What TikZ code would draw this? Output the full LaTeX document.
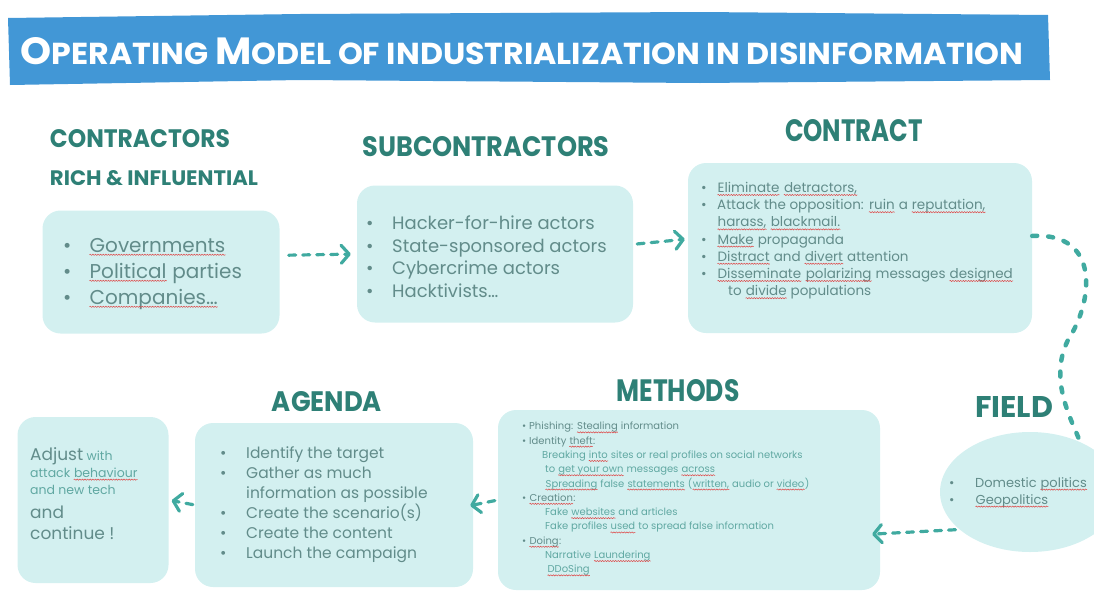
\documentclass[tikz,border=0pt]{standalone}
\usepackage{fontspec}
\setmainfont{Poppins}
\usetikzlibrary{arrows.meta,shapes.geometric,decorations.pathmorphing}

\definecolor{bannerblue}{RGB}{66,151,214}
\definecolor{boxfill}{RGB}{211,240,240}
\definecolor{headteal}{RGB}{46,128,118}
\definecolor{bodytext}{RGB}{98,140,138}
\definecolor{lighttext}{RGB}{96,168,162}
\definecolor{arrowteal}{RGB}{64,170,160}
\definecolor{squig}{RGB}{222,70,70}

% red wavy underline of the spell checker
\newcommand{\sq}[1]{\tikz[baseline=(w.base)]{\node[inner sep=0, anchor=base] (w) {#1};
  \draw[squig, line width=0.5pt, decorate, decoration={snake, amplitude=0.6pt, segment length=2.6pt}]
    ([yshift=-2.5pt]w.base west) -- ([yshift=-2.5pt]w.base east);}}
\newcommand{\hd}[3]{\resizebox{#1pt}{#2pt}{#3}}
\newcommand{\bl}[1]{\makebox[#1pt][l]{\textbullet}}
\newcommand{\sub}[2]{\hspace*{#1pt}{\color{lighttext}#2}}

\tikzset{
  panel/.style={fill=boxfill, rounded corners=18pt, inner sep=0},
  heading/.style={text=headteal, font=\bfseries, inner sep=0},
  list/.style={text=bodytext, align=left, inner sep=0, anchor=north west},
  flow/.style={draw=arrowteal, line width=3.2pt, line cap=round, dash pattern=on 7pt off 7pt,
    -{Straight Barb[length=8pt,width=18pt,round]}},
  dotpath/.style={draw=arrowteal, line width=4.5pt, line cap=round, dash pattern=on 5pt off 11pt},
}

\begin{document}
\begin{tikzpicture}[x=1pt,y=-1pt]
\useasboundingbox (0,0) rectangle (1094,592);

% title banner
\fill[bannerblue] (8,18) -- (300,14) -- (700,12) -- (1048,15) -- (1050,80) -- (700,83) -- (300,80) -- (10,85) -- cycle;
\node[text=white, inner sep=0, font=\bfseries] (title) at (522,51)
  {\hd{1003}{27}{\fontsize{30}{30}\selectfont O\fontsize{24}{24}\selectfont PERATING \fontsize{30}{30}\selectfont M\fontsize{24}{24}\selectfont ODEL OF INDUSTRIALIZATION IN DISINFORMATION}};

% panels
\node[panel, minimum width=237pt, minimum height=123pt] (contractors) at (161,272) {};
\node[panel, minimum width=276pt, minimum height=137pt] (subcontractors) at (495,254) {};
\node[panel, minimum width=344pt, minimum height=170pt] (contract) at (860,248) {};
\node[ellipse, fill=boxfill, minimum width=180pt, minimum height=120pt] (field) at (1030,492) {};
\node[panel, minimum width=382pt, minimum height=180pt] (methods) at (689,500) {};
\node[panel, minimum width=278pt, minimum height=164pt] (agenda) at (334,505) {};
\node[panel, minimum width=151pt, minimum height=166pt] (adjust) at (93,500) {};

% headings
\node[heading] (contractorshead) at (140,139) {\hd{180}{18}{CONTRACTORS}};
\node[heading] (richhead) at (154,178) {\hd{208}{15}{RICH \& INFLUENTIAL}};
\node[heading] (subhead) at (486,147) {\hd{247}{20}{SUBCONTRACTORS}};
\node[heading] (contracthead) at (854,131) {\hd{138}{22}{CONTRACT}};
\node[heading] (fieldhead) at (1014,407) {\hd{78}{21}{FIELD}};
\node[heading] (methodshead) at (678,391) {\hd{123}{22}{METHODS}};
\node[heading] (agendahead) at (327,402) {\hd{110}{20}{AGENDA}};

% texts
\node[list, font=\fontsize{20}{26}\selectfont] (contractorslist) at (63,238)
  {\bl{26}\sq{Governments}\\ \bl{26}\sq{Political} parties\\ \bl{26}\sq{Companies…}};
\node[list, font=\fontsize{18}{22.5}\selectfont] (sublist) at (366,216)
  {\bl{26}Hacker-for-hire actors\\ \bl{26}State-sponsored actors\\ \bl{26}Cybercrime actors\\ \bl{26}Hacktivists…};
\node[list, font=\fontsize{13.5}{17.2}\selectfont] (contractlist) at (701,182)
  {\bl{16}\sq{Eliminate} \sq{detractors,}\\
   \bl{16}Attack the opposition: \sq{ruin} a \sq{reputation,}\\
   \hspace*{16pt}\sq{harass,} \sq{blackmail.}\\
   \bl{16}\sq{Make} propaganda\\
   \bl{16}\sq{Distract} and \sq{divert} attention\\
   \bl{16}\sq{Disseminate} \sq{polarizing} messages \sq{designed}\\
   \hspace*{27pt}to \sq{divide} populations};
\node[list, font=\fontsize{10}{14.3}\selectfont] (methodslist) at (522,422)
  {\bl{7}Phishing: \sq{Stealing} information\\
   \bl{7}Identity \sq{theft}:\\
   \sub{20}{Breaking \sq{into} sites or real profiles on social networks}\\
   \sub{23}{to \sq{get your own} messages \sq{across}}\\
   \sub{23}{\sq{Spreading} false \sq{statements} (\sq{written,} audio or \sq{video})}\\
   \bl{7}\sq{Creation}:\\
   \sub{23}{Fake \sq{websites} and articles}\\
   \sub{23}{Fake profiles \sq{used} to spread false information}\\
   \bl{7}\sq{Doing}:\\
   \sub{23}{Narrative \sq{Laundering}}\\
   \sub{25}{\sq{DDoSing}}};
\node[list, font=\fontsize{15.5}{20}\selectfont] (agendalist) at (220,446)
  {\bl{26}Identify the target\\ \bl{26}Gather as much\\ \hspace*{26pt}information as possible\\
   \bl{26}Create the scenario(s)\\ \bl{26}Create the content\\ \bl{26}Launch the campaign};
\node[list, font=\fontsize{13}{17}\selectfont] (fieldlist) at (949,477)
  {\bl{26}Domestic \sq{politics}\\ \bl{26}\sq{Geopolitics}};
\node[list, font=\fontsize{12.5}{17}\selectfont] (adjustlist) at (30,447)
  {{\fontsize{17}{20}\selectfont Adjust} {\color{lighttext}with}\\
   {\color{lighttext}attack \sq{behaviour}}\\
   {\color{lighttext}and new tech}\\[7pt]
   {\fontsize{17}{20}\selectfont and}\\[4pt]
   {\fontsize{17}{20}\selectfont continue !}};

% connectors
\draw[flow, shorten <=9pt, shorten >=6pt] (contractors.8) -- (subcontractors.west);
\draw[flow, shorten <=4pt, shorten >=3pt] (subcontractors.4) -- (contract.177);
\draw[dotpath] (contract.4) .. controls (1100,232) and (1094,300) .. (1068,340)
  .. controls (1048,380) and (1072,420) .. (field.45);
\draw[flow, shorten <=4pt, shorten >=-8pt] (field.208) -- (methods.-10);
\draw[flow, shorten <=3pt, shorten >=-3pt] (methods.west) -- (agenda.east);
\draw[flow, shorten <=2pt, shorten >=3pt] (agenda.west) -- (adjust.east);
\end{tikzpicture}
\end{document}
